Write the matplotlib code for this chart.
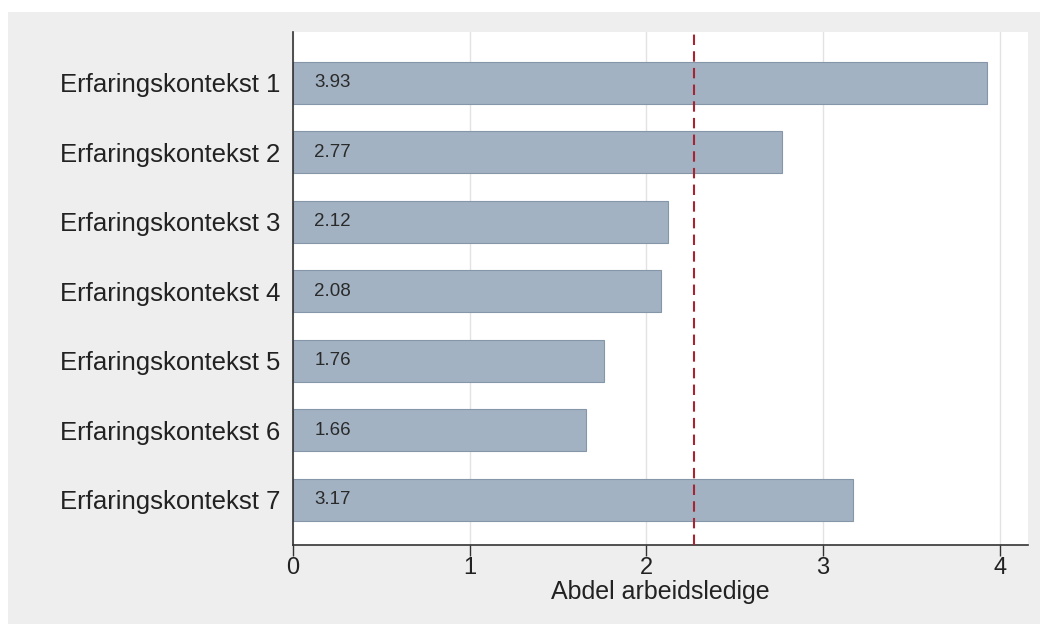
import matplotlib
matplotlib.use("Agg")
import matplotlib.pyplot as plt
from matplotlib.patches import Rectangle

categories = ["Erfaringskontekst 1", "Erfaringskontekst 2", "Erfaringskontekst 3",
              "Erfaringskontekst 4", "Erfaringskontekst 5", "Erfaringskontekst 6",
              "Erfaringskontekst 7"]
values = [3.93, 2.77, 2.12, 2.08, 1.76, 1.66, 3.17]
reference_value = 2.27
xticks = [0, 1, 2, 3, 4]
xlabel = "Abdel arbeidsledige"

plt.rcParams['font.family'] = ['Liberation Sans', 'DejaVu Sans']

W, H = 1040, 624
fig = plt.figure(figsize=(W / 100, H / 100), dpi=100)
fig.patch.set_facecolor("white")
# gray panel
bg = Rectangle((8 / W, 0), 1 - 8 / W, 1 - 12 / H, transform=fig.transFigure,
               facecolor="#eeeeee", edgecolor="none", zorder=-10)
fig.patches.append(bg)

ax = fig.add_axes([293 / W, 1 - 545 / H, (1028 - 293) / W, (545 - 32) / H])
ax.set_zorder(5)
ax.set_facecolor("white")

pos = list(range(len(categories)))
ax.barh(pos, values, height=0.6, color="#a2b2c2", edgecolor="#8596a8", linewidth=0.8, zorder=2)
for p, v in zip(pos, values):
    ax.text(0.12, p, f"{v:.2f}", va="center", ha="left", fontsize=13.5, color="#2a2a2a", zorder=3)

ax.axvline(reference_value, color="#a82430", linestyle=(0, (5, 3)), linewidth=1.5, zorder=4)

ax.set_xlim(0, 4.16)
ax.set_ylim(6.65, -0.73)
ax.set_xticks(xticks)
ax.set_xticklabels([str(t) for t in xticks], fontsize=17, color="#222222")
ax.set_yticks(pos)
ax.set_yticklabels(categories, fontsize=18.5, color="#222222")
ax.tick_params(axis="y", length=0, pad=9)
ax.tick_params(axis="x", length=8, width=1, color="#333333", pad=1)
ax.xaxis.grid(True, color="#e2e2e2", linewidth=1, zorder=0)
ax.set_axisbelow(True)
ax.set_xlabel(xlabel, fontsize=18, labelpad=0, color="#222222")
for s in ["top", "right"]:
    ax.spines[s].set_visible(False)
for s in ["left", "bottom"]:
    ax.spines[s].set_color("#333333")
    ax.spines[s].set_linewidth(1.2)

fig.savefig("out.png", dpi=100, facecolor=fig.get_facecolor())
